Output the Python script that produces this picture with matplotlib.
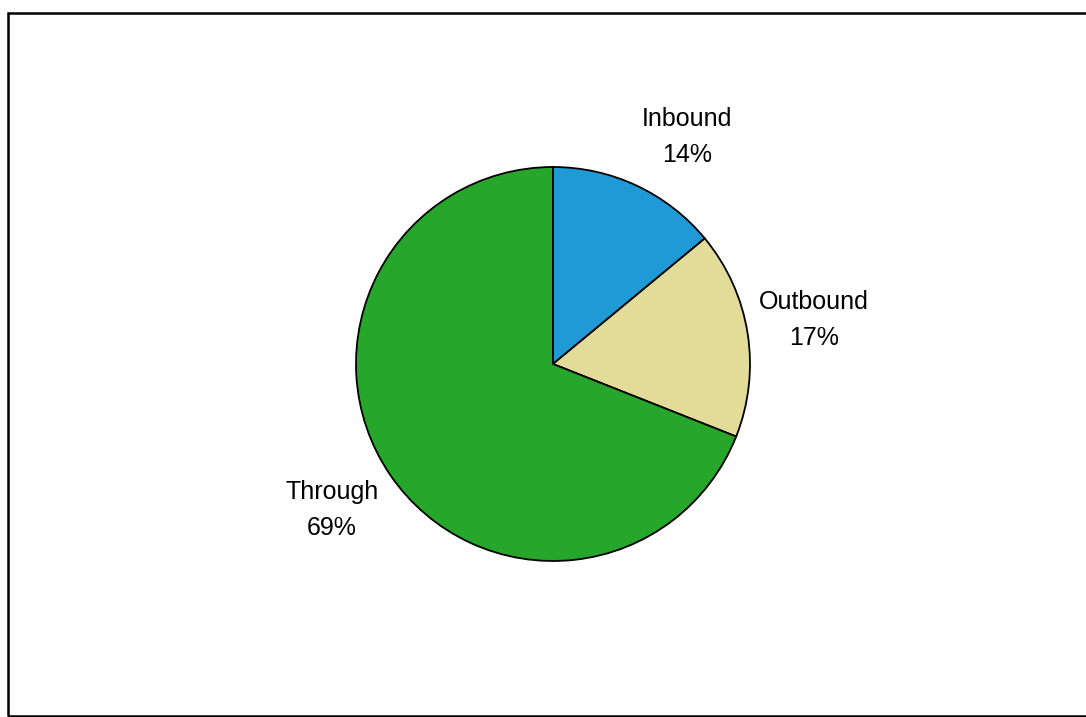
import matplotlib.pyplot as plt
from matplotlib.patches import Rectangle

labels = ["Inbound", "Outbound", "Through"]
shares = [14, 17, 69]
colors = ["#1f9ad6", "#e2dc98", "#26a62b"]
# label centres (pixels from the bottom-left), as placed in the original
label_pos = [(687, 580), (814, 397), (332, 207)]

plt.rcParams['font.family'] = ['Liberation Sans', 'DejaVu Sans']

fig = plt.figure(figsize=(10.86, 7.17), dpi=100)
ax = fig.add_axes([0, 0, 1, 1])
ax.set_xlim(0, 1086)
ax.set_ylim(0, 717)
ax.set_aspect('equal')
ax.axis('off')

# pie laid out in pixel units so it sits where the original does
texts = ax.pie(shares, labels=[f"{n}\n{s}%" for n, s in zip(labels, shares)],
               colors=colors, startangle=90, counterclock=False,
               center=(553, 353), radius=197,
               wedgeprops=dict(edgecolor='black', linewidth=1.3),
               textprops=dict(fontsize=18, ha='center', va='center',
                              linespacing=1.62))[1]
ax.set_xlim(0, 1086)
ax.set_ylim(0, 717)
for t, p in zip(texts, label_pos):
    t.set_position(p)

# chart frame
ax.add_patch(Rectangle((7.5, 1), 1086, 703, fill=False, edgecolor='black',
                       linewidth=1.8, clip_on=False))

fig.savefig('out.png', dpi=100, facecolor='white')
